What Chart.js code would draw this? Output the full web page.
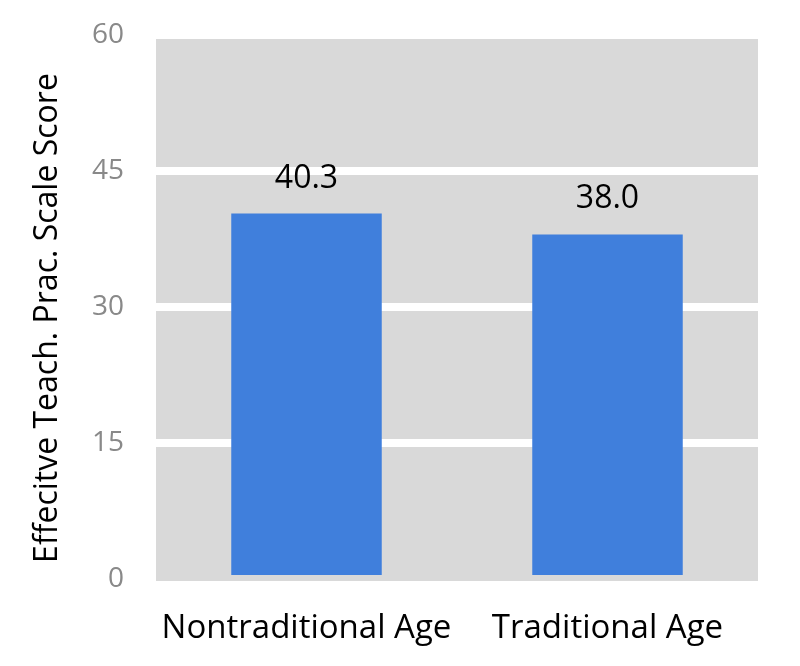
<!DOCTYPE html>
<html>
<head>
<meta charset="utf-8">
<script src="https://cdn.jsdelivr.net/npm/chart.js@4"></script>
<style>
  html, body { margin: 0; padding: 0; background: #fff; }
  #wrap { width: 800px; height: 666px; }
</style>
</head>
<body>
<div id="wrap"><canvas id="myChart" width="800" height="666"></canvas></div>
<script>
const categories = ['Nontraditional Age', 'Traditional Age'];
const scores = [40.3, 38.0];
const yTicks = [0, 15, 30, 45, 60];
const yTitle = 'Effecitve Teach. Prac. Scale Score';

const FONT = "'Open Sans', sans-serif";

// grey plot background, drawn before the grid
const plotBackground = {
  id: 'plotBackground',
  beforeDraw(chart) {
    const { ctx, chartArea } = chart;
    ctx.save();
    ctx.fillStyle = '#d9d9d9';
    ctx.fillRect(chartArea.left, chartArea.top, chartArea.right - chartArea.left, chartArea.bottom - chartArea.top + 2);
    ctx.restore();
  }
};

// value labels above the bars + y axis title (sits a bit lower than the axis centre)
const barLabels = {
  id: 'barLabels',
  afterDatasetsDraw(chart) {
    const { ctx } = chart;
    const meta = chart.getDatasetMeta(0);
    ctx.save();
    ctx.font = '32px ' + FONT;
    ctx.fillStyle = '#000';
    ctx.textAlign = 'center';
    ctx.textBaseline = 'alphabetic';
    meta.data.forEach((bar, i) => {
      ctx.fillText(scores[i].toFixed(1), bar.x, bar.y - 26);
    });
    ctx.translate(57, 318);
    ctx.rotate(-Math.PI / 2);
    ctx.fillText(yTitle, 0, 0);
    ctx.restore();
  }
};

const ctx = document.getElementById('myChart').getContext('2d');
new Chart(ctx, {
  type: 'bar',
  data: {
    labels: categories,
    datasets: [{
      data: scores,
      backgroundColor: '#407fdc',
      borderWidth: 0,
      categoryPercentage: 1,
      barPercentage: 0.5
    }]
  },
  options: {
    responsive: false,
    animation: false,
    layout: { padding: { left: 27, right: 42, top: 35, bottom: 0 } },
    plugins: {
      legend: { display: false },
      tooltip: { enabled: false }
    },
    scales: {
      x: {
        grid: { display: false, drawTicks: false },
        border: { display: false },
        ticks: {
          color: '#000',
          padding: 30,
          font: { family: FONT, size: 33 }
        },
        afterFit(scale) { scale.height = 87; }
      },
      y: {
        min: 0,
        max: 60,
        afterBuildTicks(scale) { scale.ticks = yTicks.map(v => ({ value: v })); },
        grid: {
          drawTicks: false,
          lineWidth: 8,
          color: (c) => (c.tick && c.tick.value === 0) ? 'rgba(0,0,0,0)' : '#ffffff'
        },
        border: { display: false },
        ticks: {
          color: '#898989',
          padding: 32,
          font: { family: FONT, size: 28 }
        },
        title: { display: false },
        afterFit(scale) {
          scale.width = 129;
          scale.paddingTop = 0;
          scale.paddingBottom = 0;
        }
      }
    }
  },
  plugins: [plotBackground, barLabels]
});
</script>
</body>
</html>
